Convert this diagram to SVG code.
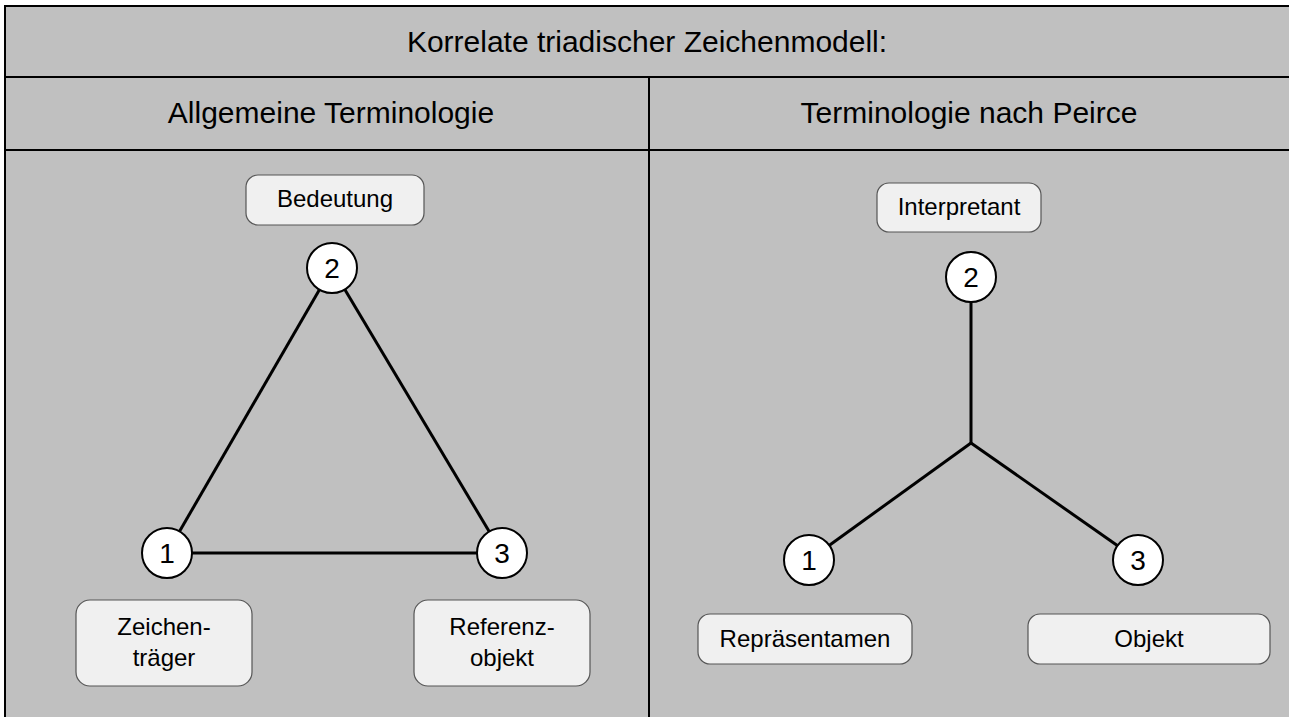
<svg xmlns="http://www.w3.org/2000/svg" width="1289" height="717" viewBox="0 0 1289 717">
  <style>
    .frame { fill: #c0c0c0; stroke: #000; stroke-width: 2; }
    .rule { stroke: #000; stroke-width: 2; fill: none; }
    .head { font-family: "Liberation Sans", Arial, sans-serif; font-size: 30px; fill: #000; text-anchor: middle; }
    .box { fill: #f0f0f0; stroke: #555; stroke-width: 1.2; }
    .label { font-family: "Liberation Sans", Arial, sans-serif; font-size: 24px; fill: #000; text-anchor: middle; }
    .dot { fill: #fff; stroke: #000; stroke-width: 2; }
    .num { font-family: "Liberation Sans", Arial, sans-serif; font-size: 28px; fill: #000; text-anchor: middle; }
    .link { stroke: #000; stroke-width: 3; fill: none; }
  </style>

  <!-- table frame -->
  <rect class="frame" x="5" y="6" width="1290" height="720"/>
  <line class="rule" x1="5" y1="77" x2="1289" y2="77"/>
  <line class="rule" x1="5" y1="150" x2="1289" y2="150"/>
  <line class="rule" x1="649" y1="77" x2="649" y2="717"/>

  <text class="head" x="647" y="52">Korrelate triadischer Zeichenmodell:</text>
  <text class="head" x="331" y="123">Allgemeine Terminologie</text>
  <text class="head" x="969" y="123">Terminologie nach Peirce</text>

  <!-- connectors -->
  <g id="connectors">
    <line class="link" x1="332" y1="268" x2="167" y2="553"/>
    <line class="link" x1="332" y1="268" x2="502" y2="553"/>
    <line class="link" x1="167" y1="553" x2="502" y2="553"/>
    <line class="link" x1="971" y1="277" x2="971" y2="443"/>
    <line class="link" x1="971" y1="443" x2="809" y2="560"/>
    <line class="link" x1="971" y1="443" x2="1138" y2="560"/>
  </g>

  <!-- general terminology -->
  <g id="bedeutung">
    <rect class="box" x="246" y="175" width="178" height="50" rx="12"/>
    <text class="label" x="335" y="207">Bedeutung</text>
  </g>
  <g id="zeichentraeger">
    <rect class="box" x="76" y="600" width="176" height="86" rx="14"/>
    <text class="label" x="164" y="635">Zeichen-</text>
    <text class="label" x="164" y="666">träger</text>
  </g>
  <g id="referenzobjekt">
    <rect class="box" x="414" y="600" width="176" height="86" rx="14"/>
    <text class="label" x="502" y="635">Referenz-</text>
    <text class="label" x="502" y="666">objekt</text>
  </g>
  <g id="l-node-2">
    <circle class="dot" cx="332" cy="268" r="25"/>
    <text class="num" x="332" y="278">2</text>
  </g>
  <g id="l-node-1">
    <circle class="dot" cx="167" cy="553" r="25"/>
    <text class="num" x="167" y="563">1</text>
  </g>
  <g id="l-node-3">
    <circle class="dot" cx="502" cy="553" r="25"/>
    <text class="num" x="502" y="563">3</text>
  </g>

  <!-- Peirce terminology -->
  <g id="interpretant">
    <rect class="box" x="877" y="183" width="164" height="49" rx="12"/>
    <text class="label" x="959" y="215">Interpretant</text>
  </g>
  <g id="repraesentamen">
    <rect class="box" x="698" y="614" width="214" height="50" rx="12"/>
    <text class="label" x="805" y="647">Repräsentamen</text>
  </g>
  <g id="objekt">
    <rect class="box" x="1028" y="614" width="242" height="50" rx="12"/>
    <text class="label" x="1149" y="647">Objekt</text>
  </g>
  <g id="r-node-2">
    <circle class="dot" cx="971" cy="277" r="25"/>
    <text class="num" x="971" y="287">2</text>
  </g>
  <g id="r-node-1">
    <circle class="dot" cx="809" cy="560" r="25"/>
    <text class="num" x="809" y="570">1</text>
  </g>
  <g id="r-node-3">
    <circle class="dot" cx="1138" cy="560" r="25"/>
    <text class="num" x="1138" y="570">3</text>
  </g>
</svg>
